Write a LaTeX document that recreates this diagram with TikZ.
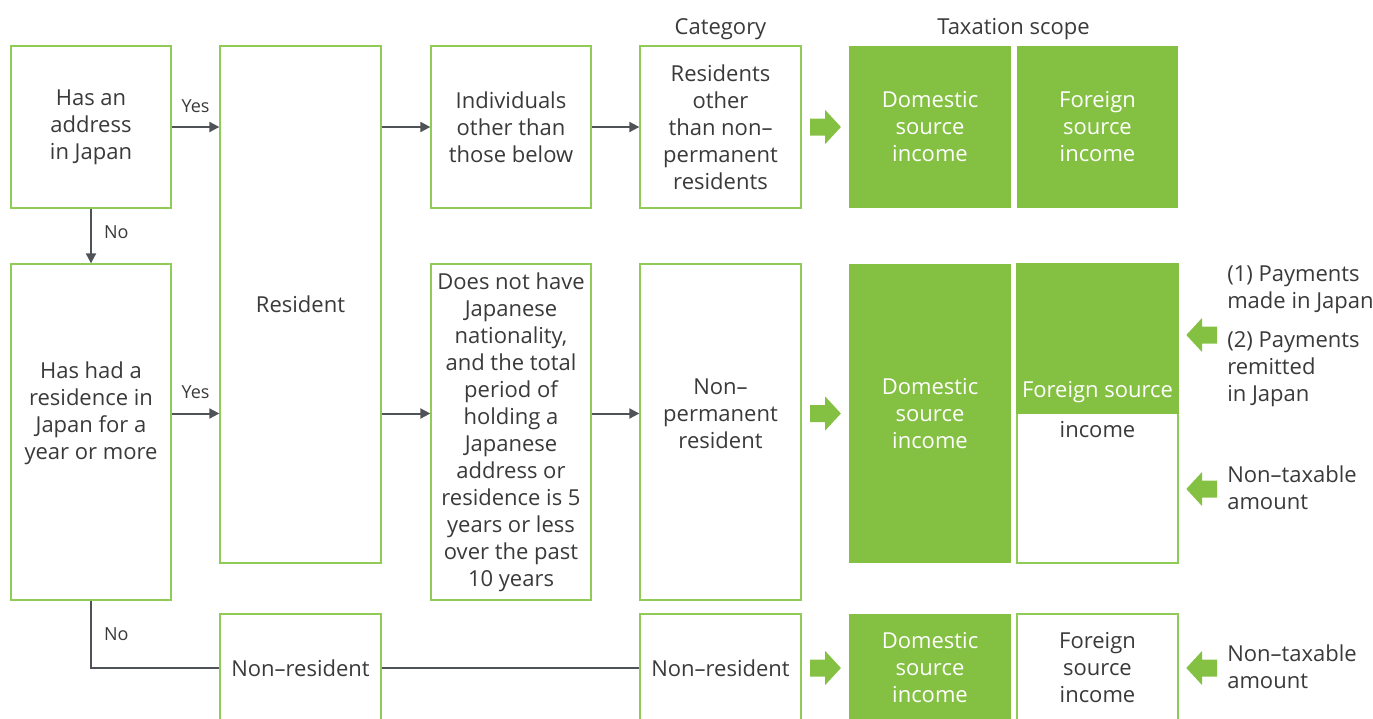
\documentclass[tikz,border=0pt]{standalone}
\usepackage{fontspec}
\setmainfont{Open Sans}
\usetikzlibrary{arrows.meta,calc}

\definecolor{brand}{HTML}{84C142}
\definecolor{boxedge}{HTML}{8FCB55}
\definecolor{ink}{HTML}{3A3A3A}
\definecolor{wire}{HTML}{4F5256}

\newcommand\bodysize{\fontsize{16.5}{20.25}\selectfont}
\newcommand\tagsize{\fontsize{13.5}{15}\selectfont}

\tikzset{
  box/.style={draw=boxedge, line width=1pt, fill=white, inner sep=0pt,
              align=center, text=ink, font=\bodysize},
  gbox/.style={fill=brand, inner sep=0pt, align=center, text=white, font=\bodysize},
  txt/.style={inner sep=0pt, align=center, text=ink, font=\bodysize},
  note/.style={inner sep=0pt, align=left, text=ink, font=\bodysize, anchor=west},
  tag/.style={inner sep=0pt, text=ink, font=\tagsize},
  conn/.style={draw=wire, line width=1.5pt},
  flow/.style={conn, -{Triangle[length=7.5pt,width=7.5pt]}},
  wide/.style={minimum width=120pt},
  tall/.style={minimum height=121.5pt},
  rarrow/.pic={\fill[brand] (-15,-8.5) -- (0,-8.5) -- (0,-17) -- (15.7,0)
                 -- (0,17) -- (0,8.5) -- (-15,8.5) -- cycle;},
  larrow/.pic={\fill[brand] (15,-8.5) -- (0,-8.5) -- (0,-17) -- (-15.7,0)
                 -- (0,17) -- (0,8.5) -- (15,8.5) -- cycle;},
}

\begin{document}
\begin{tikzpicture}[x=0.75pt, y=-0.75pt]
\clip (0,0) rectangle (1373,718);

% column headings
\node[txt] (hcat) at (720.5,29) {Category};
\node[txt] (hscope) at (1013.5,29) {Taxation scope};

% decision boxes
\node[box, wide, tall] (addr) at (91,127) {Has an\\address\\in Japan};
\node[box, wide, minimum height=252pt] (resi) at (91,432) {};

% residency status
\node[box, minimum width=120.75pt, minimum height=387.75pt] (res) at (300.5,304.5) {Resident};
\node[box, minimum width=120.75pt, minimum height=81pt] (nres) at (300.5,668) {Non--resident};

% conditions
\node[box, wide, tall] (indiv) at (511,127) {Individuals\\other than\\those below};
\node[box, wide, minimum height=252pt] (cond) at (511,432)
  {Does not have\\Japanese\\nationality,\\and the total\\period of\\holding a\\Japanese\\address or\\residence is 5\\years or less\\over the past\\10 years};

% categories
\node[box, minimum width=120.75pt, tall] (cat1) at (720.5,127)
  {Residents\\other\\than non--\\permanent\\residents};
\node[box, minimum width=120.75pt, minimum height=252pt] (cat2) at (720.5,432) {};
\node[box, minimum width=120.75pt, minimum height=81pt] (cat3) at (720.5,668) {Non--resident};

% domestic source income
\node[gbox, minimum width=121.5pt, tall] (dom1) at (930,127) {Domestic\\source\\income};
\node[gbox, minimum width=121.5pt, minimum height=224.25pt] (dom2) at (930,413.5) {Domestic\\source\\income};
\node[gbox, minimum width=121.5pt, minimum height=81pt] (dom3) at (930,668) {Domestic\\source\\income};
\node[txt] (cat2txt) at (cat2 |- dom2) {Non--\\permanent\\resident};
\node[txt] (resitxt) at (resi |- dom2) {Has had a\\residence in\\Japan for a\\year or more};

% foreign source income
\node[gbox, minimum width=120.75pt, tall] (for1) at (1097.5,127) {Foreign\\source\\income};
\node[box, minimum width=120.75pt, minimum height=224.25pt] (for2) at (1097.5,413.5) {};
\fill[brand] ([xshift=-0.5pt]for2.north west) rectangle ([xshift=0.5pt]for2.east);
\node[txt, text=white] (for2a) at (1097.5,392) {Foreign source};
\node[txt] (for2b) at (1097.5,430) {income};
\node[box, minimum width=120.75pt, minimum height=81pt] (for3) at (1097.5,668) {Foreign\\source\\income};

% notes on the right
\node[note] (pay) at (1227,290) {(1) Payments\\made in Japan};
\node[note] (remit) at (1227,369.5) {(2) Payments\\remitted\\in Japan};
\node[note] (ntx1) at (1227,488) {Non--taxable\\amount};
\node[note] (ntx2) at (1227,667) {Non--taxable\\amount};

% flow connectors
\draw[flow] (addr.east) -- (addr.east -| res.west) node[tag, midway, above=10pt] (yes1) {Yes};
\draw[flow] (addr.south) -- (resi.north) node[tag, midway, right=9pt, yshift=3pt] (no1) {No};
\draw[flow] (resi.east |- dom2) -- (res.west |- dom2) node[tag, midway, above=10pt] (yes2) {Yes};
\draw[conn] (resi.south) -- (resi.south |- nres.west) node[tag, midway, right=9pt] (no2) {No}
  -- (nres.west);
\draw[flow] (res.east |- addr) -- (indiv.west);
\draw[flow] (res.east |- dom2) -- (cond.west |- dom2);
\draw[flow] (indiv.east) -- (cat1.west);
\draw[flow] (cond.east |- dom2) -- (cat2.west |- dom2);
\draw[conn] (nres.east) -- (cat3.west);

% block arrows into the taxation scope
\pic at ($(cat1.east)!0.5!(dom1.west)$) {rarrow};
\pic at ($(cat2.east |- dom2)!0.5!(dom2.west)$) {rarrow};
\pic at ($(cat3.east)!0.5!(dom3.west)$) {rarrow};
\pic at (1202,335) {larrow};
\pic at (1202,489) {larrow};
\pic at (1202,668) {larrow};
\end{tikzpicture}
\end{document}
